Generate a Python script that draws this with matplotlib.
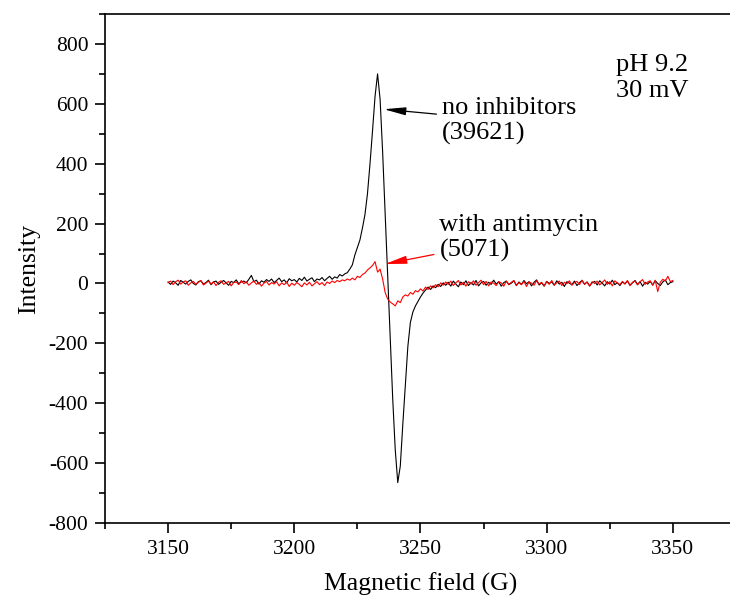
import numpy as np
import matplotlib.pyplot as plt
from matplotlib.ticker import MultipleLocator

plt.rcParams['font.family'] = ['Liberation Serif', 'DejaVu Serif']
plt.rcParams['axes.unicode_minus'] = False

# field sampled every 1 G from 3150 to 3350
field = np.arange(3150, 3351)

no_inhibitors = [
    5, -3, 8, 2, -6, 10, 4, -2, 7, 12,
    0, -5, 6, 9, -2, 3, 11, -4, 5, 8,
    -3, 4, 10, 2, -6, 7, 3, 12, -1, 5,
    8, 2, 14, 27, 6, 11, -2, 9, 4, 13,
    7, 15, 3, 10, 18, 6, 12, 2, 16, 9,
    13, 5, 17, 10, 21, 8, 14, 19, 6, 15,
    12, 20, 9, 17, 24, 14, 22, 18, 30, 25,
    32, 36, 48, 62, 95, 120, 145, 185, 230, 300,
    400, 510, 625, 700, 615, 440, 235, 30, -180, -385,
    -555, -665, -610, -470, -340, -210, -130, -95, -75, -60,
    -45, -32, -22, -12, -20, -8, -14, -3, -10, 2,
    -6, 4, -9, 8, -2, -11, 5, -4, 9, -7,
    3, -5, 10, -8, 2, 7, -6, 4, -3, 11,
    -2, 6, -9, 3, 8, -4, 1, 9, -7, 5,
    -3, 10, -1, 6, -8, 4, 12, -5, 2, -9,
    7, 0, 5, -6, 9, -2, 4, -10, 6, 1,
    -4, 8, -7, 3, 10, -3, 5, -8, 2, 7,
    -5, 9, 1, -8, 6, -2, 11, -4, 3, -7,
    5, -1, 8, -6, 2, 10, -3, 6, -9, 4,
    -2, 7, -5, 9, 0, -7, 5, 12, -4, 3,
    6,
]

with_antimycin = [
    3, 8, -4, 6, 11, -2, 5, 9, -6, 2,
    7, -3, 4, 10, -5, 1, 8, -2, 6, -7,
    4, 9, -3, 2, 7, -8, 3, 5, -4, 10,
    -1, 6, -6, 2, 8, -3, 4, -9, 1, 7,
    -5, 3, -2, 6, -8, 2, -4, 5, -10, 1,
    -6, 3, -3, -11, 2, -5, 4, -8, -1, 6,
    -4, 3, -7, 5, 0, 8, 3, 10, 6, 12,
    9, 15, 11, 18, 12, 24, 20, 30, 35, 45,
    52, 60, 73, 38, 48, 15, -30, -52, -62, -68,
    -75, -58, -64, -45, -38, -42, -30, -36, -24, -28,
    -18, -25, -12, -20, -8, -15, -4, -11, 2, -6,
    5, -3, 8, -7, 2, 10, -5, 4, -9, 6,
    -2, 9, -6, 3, 11, -4, 7, -8, 5, 1,
    -7, 6, 2, -9, 8, -3, 4, 10, -6, 3,
    -4, 7, -10, 5, 1, -6, 9, -2, 4, -8,
    6, -3, 10, -5, 2, 8, -7, 4, -1, 9,
    -6, 3, 7, -4, 11, -2, 5, -9, 6, 0,
    8, -5, 3, 12, -3, 6, -8, 9, 2, -4,
    7, -2, 10, -7, 4, 8, -5, 6, 13, -3,
    5, 9, -6, 11, -27, 4, 14, 8, 24, 6,
    10,
]

fig = plt.figure(figsize=(7.3, 6.04), dpi=100)
# axes runs a little past the right edge, like the cropped original
ax = fig.add_axes([0.1438, 0.1341, 0.8644, 0.8427])

ax.plot(field, no_inhibitors, color='black', lw=0.8)
ax.plot(field, with_antimycin, color='red', lw=0.8)

ax.set_xlim(3125, 3375)
ax.set_ylim(-800, 900)
ax.xaxis.set_major_locator(MultipleLocator(50))
ax.xaxis.set_minor_locator(MultipleLocator(25))
ax.set_yticks(np.arange(-800, 801, 200))
ax.yaxis.set_minor_locator(MultipleLocator(100))
ax.tick_params(which='major', length=7, width=1.2, labelsize=15.5, pad=5)
ax.tick_params(which='minor', length=4, width=1.2)
ax.spines['right'].set_visible(False)
for s in ['left', 'bottom', 'top']:
    ax.spines[s].set_linewidth(1.2)

ax.set_xlabel('Magnetic field (G)', fontsize=18.5, labelpad=10)
ax.set_ylabel('Intensity', fontsize=18.5, labelpad=6)

arrow_style = '-|>,head_length=1.1,head_width=0.2'
ax.annotate('no inhibitors\n(39621)', xy=(3235.5, 582), xytext=(3258.5, 543),
            fontsize=19, va='center', ha='left',
            arrowprops=dict(arrowstyle=arrow_style, color='black', lw=0.9,
                            mutation_scale=12, shrinkA=2, shrinkB=0))
ax.annotate('with antimycin\n(5071)', xy=(3235.9, 65), xytext=(3257.5, 152),
            fontsize=19, va='center', ha='left',
            arrowprops=dict(arrowstyle=arrow_style, color='red', lw=0.9,
                            mutation_scale=12, shrinkA=2, shrinkB=0))
ax.text(3327.5, 686, 'pH 9.2\n30 mV', fontsize=19, va='center', ha='left')

fig.savefig('out.png', dpi=100)
